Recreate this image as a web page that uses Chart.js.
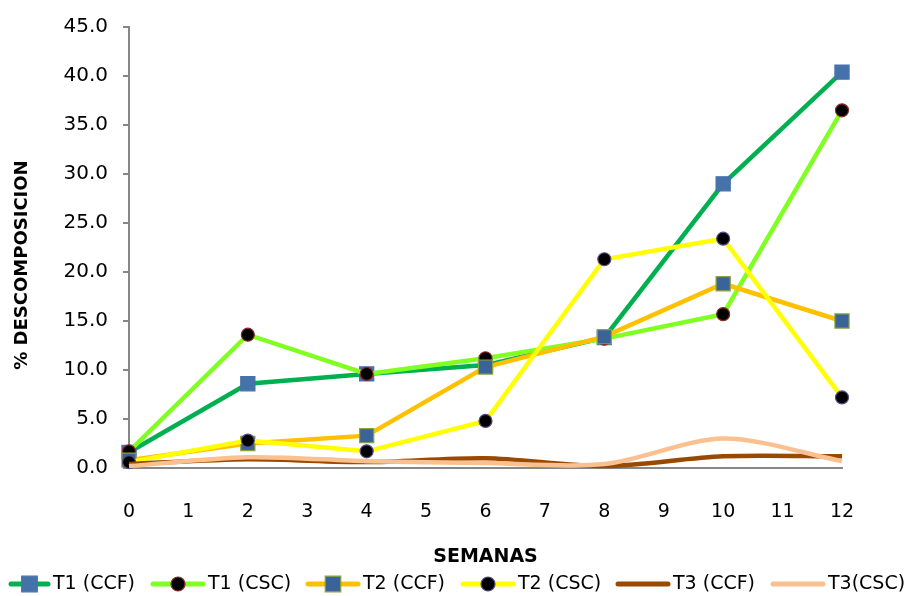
<!DOCTYPE html>
<html>
<head>
<meta charset="utf-8">
<script src="https://cdn.jsdelivr.net/npm/chart.js@4.4.1/dist/chart.umd.min.js"></script>
<style>
  html, body { margin: 0; padding: 0; background: #ffffff; }
  #wrap { width: 906px; height: 596px; position: relative; }
</style>
</head>
<body>
<div id="wrap"><canvas id="chart" width="906" height="596"></canvas></div>
<script>
// Weeks of sampling and % decomposition per treatment
const weeks = [0, 2, 4, 6, 8, 10, 12];
const seriesNames = ['T1 (CCF)', 'T1 (CSC)', 'T2 (CCF)', 'T2 (CSC)', 'T3 (CCF)', 'T3(CSC)'];
const t1Ccf = [1.6, 8.6, 9.6, 10.5, 13.3, 29.0, 40.4];
const t1Csc = [1.7, 13.6, 9.6, 11.2, 13.2, 15.7, 36.5];
const t2Ccf = [0.8, 2.5, 3.3, 10.3, 13.4, 18.8, 15.0];
const t2Csc = [0.6, 2.8, 1.7, 4.8, 21.3, 23.4, 7.2];
const t3Ccf = [0.4, 0.9, 0.6, 1.0, 0.2, 1.2, 1.2];
const t3Csc = [0.2, 1.1, 0.7, 0.5, 0.4, 3.0, 0.7];
const xAxisTitle = 'SEMANAS';
const yAxisTitle = '% DESCOMPOSICION';

const FONT = 'DejaVu Sans';
const AXIS_GREY = '#878787';

function pts(values) {
  return weeks.map((w, i) => ({ x: w, y: values[i] }));
}

const styles = [
  { line: '#00B050', shape: 'rect',   radius: 10, fill: '#4672AA', border: '#4672AA', tension: 0 },
  { line: '#80FF22', shape: 'circle', radius: 6.5, fill: '#000000', border: '#8C2A2A', tension: 0 },
  { line: '#FFC000', shape: 'rect',   radius: 10, fill: '#3A6399', border: '#8AA33E', tension: 0 },
  { line: '#FFFF00', shape: 'circle', radius: 6.5, fill: '#000000', border: '#5A4A8A', tension: 0 },
  { line: '#994A00', shape: false,    radius: 0,  fill: '#994A00', border: '#994A00', tension: 0.3 },
  { line: '#FAC090', shape: false,    radius: 0,  fill: '#FAC090', border: '#FAC090', tension: 0.3 }
];
const seriesValues = [t1Ccf, t1Csc, t2Ccf, t2Csc, t3Ccf, t3Csc];

const datasets = seriesValues.map((vals, i) => ({
  label: seriesNames[i],
  data: pts(vals),
  borderColor: styles[i].line,
  backgroundColor: styles[i].line,
  borderWidth: 4.5,
  tension: styles[i].tension,
  pointStyle: styles[i].shape,
  pointRadius: styles[i].radius,
  pointBackgroundColor: styles[i].fill,
  pointBorderColor: styles[i].border,
  pointBorderWidth: 1.2,
  clip: false,
  order: seriesValues.length - 1 - i   // later series drawn above earlier ones
}));

// Rotated y title and the legend row under the x title
const extras = {
  id: 'extras',
  afterDraw(chart) {
    const ctx = chart.ctx;
    ctx.save();
    ctx.fillStyle = '#000000';
    ctx.font = 'bold 18px "' + FONT + '"';
    ctx.textAlign = 'center';
    ctx.textBaseline = 'middle';
    ctx.translate(22, 265);
    ctx.rotate(-Math.PI / 2);
    ctx.fillText(yAxisTitle, 0, 0);
    ctx.restore();

    ctx.save();
    ctx.font = '19px "' + FONT + '"';
    ctx.textBaseline = 'middle';
    ctx.textAlign = 'left';
    const y = 584;
    const stride = 155;
    chart.data.datasets.forEach((ds, i) => {
      const textX = 53 + stride * i;
      const lineEnd = textX - 3;
      const lineStart = Math.max(9, textX - 57);
      ctx.strokeStyle = ds.borderColor;
      ctx.lineWidth = 5;
      ctx.lineCap = 'round';
      ctx.beginPath();
      ctx.moveTo(lineStart + 2, y);
      ctx.lineTo(lineEnd - 2, y);
      ctx.stroke();
      if (ds.pointStyle) {
        ctx.fillStyle = ds.pointBackgroundColor;
        ctx.strokeStyle = ds.pointBorderColor;
        ctx.lineWidth = ds.pointBorderWidth;
        Chart.helpers.drawPoint(ctx, {
          pointStyle: ds.pointStyle,
          radius: ds.pointStyle === 'rect' ? 11 : 7,
          rotation: 0,
          borderWidth: ds.pointBorderWidth
        }, (lineStart + lineEnd) / 2, y);
      }
      ctx.fillStyle = '#000000';
      ctx.fillText(ds.label, textX, y);
    });
    ctx.restore();
  }
};

new Chart(document.getElementById('chart'), {
  type: 'line',
  data: { datasets },
  options: {
    responsive: false,
    animation: false,
    devicePixelRatio: 1,
    layout: { padding: { left: 0, right: 64, top: 25, bottom: 0 } },
    plugins: { legend: { display: false }, tooltip: { enabled: false } },
    scales: {
      x: {
        type: 'linear',
        min: 0,
        max: 12,
        grid: { display: false, drawTicks: false },
        border: { display: true, color: AXIS_GREY, width: 2 },
        ticks: {
          stepSize: 1,
          padding: 33,
          color: '#000000',
          font: { family: FONT, size: 19 }
        },
        title: {
          display: true,
          text: xAxisTitle,
          color: '#000000',
          font: { family: FONT, size: 19, weight: 'bold' },
          padding: { top: 0, bottom: 28 }
        },
        afterFit(scale) { scale.height = 128; }
      },
      y: {
        min: 0,
        max: 45,
        grid: {
          display: true,
          drawOnChartArea: false,
          drawTicks: true,
          tickLength: 6,
          color: AXIS_GREY,
          lineWidth: 2
        },
        border: { display: true, color: AXIS_GREY, width: 2 },
        ticks: {
          stepSize: 5,
          padding: 15,
          color: '#000000',
          font: { family: FONT, size: 20 },
          callback: (v) => Number(v).toFixed(1)
        },
        afterFit(scale) { scale.width = 129; }
      }
    }
  },
  plugins: [extras]
});
</script>
</body>
</html>
